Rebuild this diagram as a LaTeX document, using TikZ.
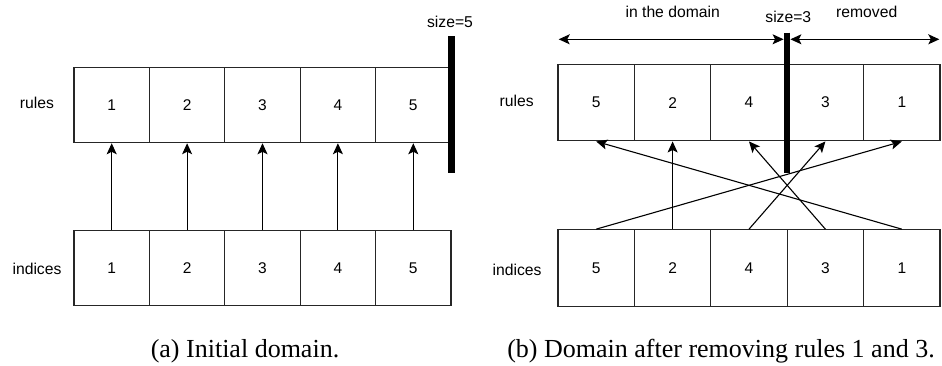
\documentclass[tikz,border=0pt]{standalone}
\usepackage{fontspec}
\setmainfont{Liberation Serif}
\setsansfont{Liberation Sans}
\usetikzlibrary{arrows.meta}
\begin{document}
\begin{tikzpicture}[x=1pt,y=-1pt,
  cellA/.style={draw=black!85,line width=1.1pt,minimum width=75.4pt,minimum height=75.4pt,inner sep=0pt,font=\sffamily\fontsize{15.5}{18}\selectfont},
  cellB/.style={draw=black!85,line width=1.1pt,minimum width=76.4pt,minimum height=76.6pt,inner sep=0pt,font=\sffamily\fontsize{15.5}{18}\selectfont},
  lbl/.style={inner sep=0pt,anchor=base,font=\sffamily\fontsize{15.7}{18}\selectfont},
  captxt/.style={inner sep=0pt,anchor=base,font=\fontsize{26}{30}\selectfont},
  tip/.tip={Stealth[length=11pt,width=10pt,inset=2.5pt]},
  link/.style={line width=1.1pt,-tip},
  spanarrow/.style={line width=1.1pt,tip-tip},
  sizebar/.style={line width=6.5pt,black}]
\useasboundingbox (0,0) rectangle (942,365);

% ---------- (a) initial domain ----------
\foreach \v [count=\i] in {1,2,3,4,5}{
  \node[cellA] (ra\i) at ({74+37.7+75.4*(\i-1)},105) {\v};
  \node[cellA] (ia\i) at ({74+37.7+75.4*(\i-1)},267.9) {\v};
}
\foreach \i in {1,...,5}{
  \draw[link] (ia\i.north) -- (ra\i.south);
}
\node[lbl] (rulesA) at (37,108.3) {rules};
\node[lbl] (indA) at (37,274) {indices};
\coordinate (barAt) at (451.5,36);
\coordinate (barAb) at (451.5,173);
\draw[sizebar] (barAt) -- (barAb);
\node[lbl] (sizeA) at (450,27.3) {size=5};
\node[captxt] (capA) at (245,357.3) {(a) Initial domain.};

% ---------- (b) after removing rules 1 and 3 ----------
\foreach \v [count=\i] in {5,2,4,3,1}{
  \node[cellB] (rb\i) at ({558+38.2+76.4*(\i-1)},102.6) {\v};
  \node[cellB] (ib\i) at ({558+38.2+76.4*(\i-1)},268) {\v};
}
\draw[link] (ib1.north) -- (rb5.south);
\draw[link] (ib2.north) -- (rb2.south);
\draw[link] (ib3.north) -- (rb4.south);
\draw[link] (ib4.north) -- (rb3.south);
\draw[link] (ib5.north) -- (rb1.south);
\node[lbl] (rulesB) at (516.7,106) {rules};
\node[lbl] (indB) at (517,275.3) {indices};
\coordinate (barBt) at (787,32.7);
\coordinate (barBb) at (787,173.3);
\draw[sizebar] (barBt) -- (barBb);
\coordinate (spanL) at (558.7,39.3);
\coordinate (spanR) at (939.3,39.3);
\draw[spanarrow] (spanL) -- ([xshift=-3.4pt]barBt |- spanL);
\draw[spanarrow] ([xshift=3.4pt]barBt |- spanR) -- (spanR);
\node[lbl] (inDom) at (672.7,17.3) {in the domain};
\node[lbl] (sizeB) at (788.3,22.7) {size=3};
\node[lbl] (remd) at (866.7,17.3) {removed};
\node[captxt] (capB) at (721,357.3) {(b) Domain after removing rules 1 and 3.};
\end{tikzpicture}
\end{document}
